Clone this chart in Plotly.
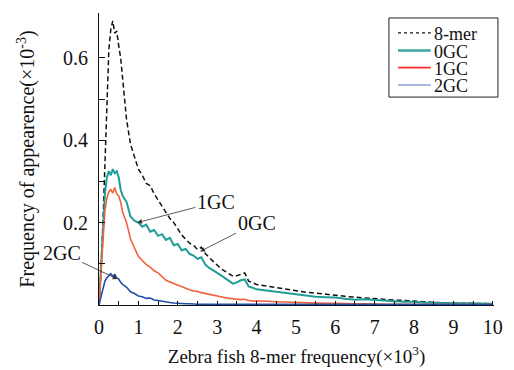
import plotly.graph_objects as go

# ---------------- data ----------------
x_freq = [0, 0.05, 0.1, 0.15, 0.2, 0.25, 0.3, 0.35, 0.4, 0.45, 0.5, 0.55, 0.6,
          0.7, 0.8, 0.9, 1.0, 1.1, 1.2, 1.3, 1.4, 1.5, 1.6, 1.7, 1.8, 1.9, 2.0,
          2.1, 2.2, 2.3, 2.4, 2.5, 2.6, 2.7, 2.8, 2.9, 3.0, 3.1, 3.2, 3.3, 3.4,
          3.5, 3.6, 3.7, 3.8, 3.9, 4.0,
          4.25, 4.5, 4.75, 5.0, 5.25, 5.5, 5.75, 6.0, 6.25, 6.5, 6.75, 7.0,
          7.25, 7.5, 7.75, 8.0, 8.25, 8.5, 8.75, 9.0, 9.25, 9.5, 9.75, 10.0]

mer8 = [0, 0.08, 0.2, 0.36, 0.5, 0.62, 0.67, 0.69, 0.66, 0.665, 0.63, 0.6, 0.55,
        0.45, 0.39, 0.36, 0.33, 0.315, 0.295, 0.29, 0.27, 0.255, 0.24, 0.225, 0.21, 0.2, 0.185,
        0.17, 0.16, 0.15, 0.145, 0.135, 0.14, 0.125, 0.115, 0.105, 0.097, 0.088, 0.082, 0.076, 0.07,
        0.071, 0.074, 0.078, 0.058, 0.054, 0.05,
        0.046, 0.042, 0.038, 0.034, 0.031, 0.029, 0.026, 0.024, 0.021, 0.019, 0.017, 0.015,
        0.013, 0.012, 0.011, 0.01, 0.008, 0.006, 0.005, 0.005, 0.004, 0.004, 0.003, 0.003]

gc0 = [0, 0.09, 0.19, 0.27, 0.31, 0.325, 0.315, 0.33, 0.32, 0.325, 0.31, 0.28, 0.265,
       0.25, 0.215, 0.205, 0.2, 0.19, 0.195, 0.178, 0.182, 0.168, 0.172, 0.158, 0.163, 0.145, 0.148,
       0.133, 0.136, 0.124, 0.12, 0.112, 0.116, 0.098, 0.09, 0.085, 0.078, 0.072, 0.065, 0.058, 0.052,
       0.055, 0.06, 0.062, 0.045, 0.042, 0.038,
       0.035, 0.032, 0.028, 0.025, 0.022, 0.02, 0.019, 0.018, 0.015, 0.013, 0.014, 0.012,
       0.01, 0.009, 0.008, 0.008, 0.006, 0.005, 0.005, 0.004, 0.004, 0.004, 0.003, 0.003]

gc1 = [0, 0.07, 0.16, 0.23, 0.26, 0.275, 0.28, 0.272, 0.285, 0.27, 0.265, 0.25, 0.225,
       0.2, 0.16, 0.14, 0.118, 0.108, 0.098, 0.092, 0.083, 0.078, 0.068, 0.06, 0.056, 0.052, 0.047,
       0.044, 0.04, 0.037, 0.034, 0.033, 0.03, 0.028, 0.025, 0.024, 0.021, 0.02, 0.018, 0.016, 0.015,
       0.014, 0.013, 0.014, 0.011, 0.01, 0.01,
       0.009, 0.008, 0.007, 0.006, 0.005, 0.005, 0.004, 0.004, 0.003, 0.003, 0.003, 0.002,
       0.002, 0.002, 0.002, 0.001, 0.001, 0.001, 0.001, 0.001, 0.001, 0.001, 0.001, 0.001]

gc2 = [0, 0.02, 0.045, 0.058, 0.066, 0.072, 0.076, 0.07, 0.074, 0.066, 0.063, 0.055, 0.05,
       0.043, 0.032, 0.028, 0.022, 0.02, 0.016, 0.017, 0.012, 0.011, 0.009, 0.008, 0.006, 0.005, 0.004,
       0.004, 0.003, 0.003, 0.002, 0.002, 0.002, 0.002, 0.001, 0.001, 0.001, 0.001, 0.001, 0.001, 0.001,
       0.001, 0.001, 0.001, 0.001, 0.001, 0.001,
       0.001, 0.001, 0.001, 0.001, 0.001, 0.001, 0.001, 0.001, 0.001, 0.001, 0.001, 0.001,
       0.001, 0.001, 0.001, 0.001, 0.001, 0.001, 0.001, 0.001, 0.001, 0.001, 0.001, 0.001]

series_names = ["8-mer", "0GC", "1GC", "2GC"]
series_values = [mer8, gc0, gc1, gc2]
line_colors = ["#111111", "#1f9e96", "#f2603a", "#1f4fa8"]
legend_colors = ["#111111", "#3aa89f", "#ff2a2a", "#a9b8e0"]

x_ticks = [0, 1, 2, 3, 4, 5, 6, 7, 8, 9, 10]
x_minor = [0.5, 1.5, 2.5, 3.5, 4.5, 5.5, 6.5, 7.5, 8.5, 9.5]
y_ticks = [0.2, 0.4, 0.6]
y_tick_labels = ["0.2", "0.4", "0.6"]
y_minor = [0.1, 0.3, 0.5]

# label annotations: (text, tip x, tip y, text x, text y)
callouts = [
    ("1GC", 0.97, 0.2, 2.97, 0.25),
    ("0GC", 2.57, 0.13, 4.0, 0.2),
    ("2GC", 0.47, 0.063, -0.95, 0.127),
]

FONT = "Liberation Serif"

fig = go.Figure()
styles = [
    dict(width=1.5, dash="5px,3px"),
    dict(width=2),
    dict(width=1.6),
    dict(width=1.6),
]
for name, vals, col, st in zip(series_names, series_values, line_colors, styles):
    fig.add_trace(go.Scatter(x=x_freq, y=vals, mode="lines", name=name,
                             line=dict(color=col, **st), showlegend=False))

for text, tx, ty, ax, ay in callouts:
    fig.add_annotation(x=tx, y=ty, ax=ax, ay=ay, xref="x", yref="y", axref="x", ayref="y",
                       text=text, showarrow=True, arrowhead=2, arrowsize=1.2, arrowwidth=0.8,
                       arrowcolor="#333333", font=dict(family=FONT, size=20, color="#111111"))

# manual legend (box + sample lines + labels)
fig.add_shape(type="rect", xref="paper", yref="paper", x0=0.734, x1=1.01, y0=0.712, y1=0.983,
              line=dict(color="#222222", width=1), fillcolor="white", layer="above")
leg_y = [0.932, 0.872, 0.813, 0.753]
leg_dash = ["dot", "solid", "solid", "solid"]
leg_w = [1.2, 2.5, 1.6, 2]
for name, col, yy, dsh, w in zip(series_names, legend_colors, leg_y, leg_dash, leg_w):
    fig.add_shape(type="line", xref="paper", yref="paper", x0=0.757, x1=0.84, y0=yy, y1=yy,
                  line=dict(color=col, width=w, dash=dsh), layer="above")
    fig.add_annotation(x=0.843, y=yy - 0.004, xref="paper", yref="paper", text=name,
                       showarrow=False, xanchor="left", yanchor="middle",
                       font=dict(family=FONT, size=18, color="#111111"))

# the page body adds an 8px offset; the figure is sized so the plot lands where the reference has it
fig.update_layout(
    width=506, height=362,
    margin=dict(l=91, r=20, t=5, b=65),
    paper_bgcolor="white", plot_bgcolor="white",
    font=dict(family=FONT, size=20, color="#111111"),
    showlegend=False,
)
fig.update_xaxes(
    range=[0, 10.03], tickvals=x_ticks, ticktext=[str(v) for v in x_ticks],
    ticks="inside", ticklen=4, tickwidth=1, tickcolor="#111111",
    minor=dict(tickvals=x_minor, ticks="inside", ticklen=4, tickwidth=1, tickcolor="#111111"),
    showline=True, linecolor="#111111", linewidth=1.2, showgrid=False, zeroline=False,
    ticklabelstandoff=4, automargin=False,
    tickfont=dict(family=FONT, size=20),
    title=dict(text="Zebra fish 8-mer frequency(×10<sup>3</sup>)", standoff=12,
               font=dict(family=FONT, size=19)),
)
fig.update_yaxes(
    range=[0, 0.709], tickvals=y_ticks, ticktext=y_tick_labels,
    ticks="inside", ticklen=6, tickwidth=1, tickcolor="#111111",
    minor=dict(tickvals=y_minor, ticks="inside", ticklen=6, tickwidth=1, tickcolor="#111111"),
    showline=True, linecolor="#111111", linewidth=1.2, showgrid=False, zeroline=False,
    ticklabelstandoff=6, automargin=False,
    tickfont=dict(family=FONT, size=20),
    title=dict(text="Frequency of appearence(×10<sup>-3</sup>)", standoff=22,
               font=dict(family=FONT, size=20)),
)

fig.write_html("out.html")
